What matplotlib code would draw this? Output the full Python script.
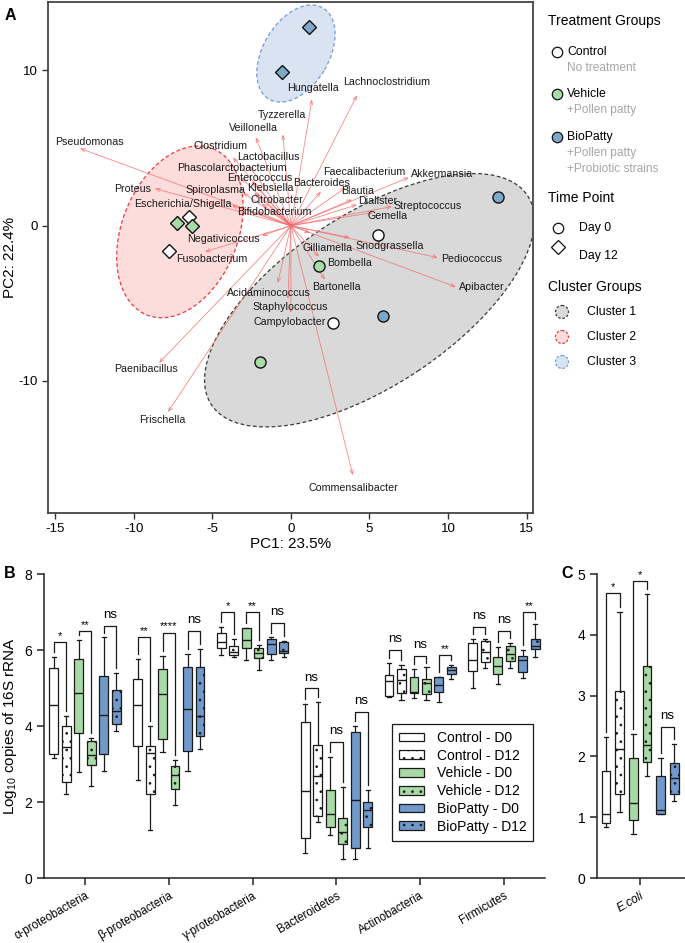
import matplotlib
matplotlib.use("Agg")
import matplotlib.pyplot as plt
from matplotlib.patches import Ellipse, Circle, Patch
import numpy as np

plt.rcParams['font.family'] = ['Liberation Sans', 'DejaVu Sans']
plt.rcParams['mathtext.fontset'] = 'custom'
plt.rcParams['mathtext.rm'] = 'Liberation Sans'
plt.rcParams['mathtext.it'] = 'Liberation Sans:italic'
plt.rcParams['axes.unicode_minus'] = False
plt.rcParams['hatch.linewidth'] = 0.7

W, H = 685, 943

# ---------------- panel A: PCA biplot ----------------
sample_pc1 = [5.57, 2.69, -6.47, -7.73, -1.97, 1.76, -7.27, -6.31, 13.2, 5.83, -0.57, 1.12]
sample_pc2 = [-0.62, -6.26, 0.54, -1.61, -8.8, -2.58, 0.15, -0.02, 1.87, -5.83, 9.9, 12.8]
sample_group = ['Control'] * 4 + ['Vehicle'] * 4 + ['BioPatty'] * 4
sample_day = [0, 0, 12, 12, 0, 0, 12, 12, 0, 0, 12, 12]

taxa = ['Pseudomonas', 'Proteus', 'Escherichia/Shigella', 'Spiroplasma',
        'Phascolarctobacterium', 'Clostridium', 'Lactobacillus', 'Enterococcus',
        'Klebsiella', 'Citrobacter', 'Bifidobacterium', 'Veillonella', 'Tyzzerella',
        'Hungatella', 'Lachnoclostridium', 'Bacteroides', 'Faecalibacterium', 'Blautia',
        'Akkermansia', 'Dialister', 'Streptococcus', 'Gemella', 'Snodgrassella',
        'Pediococcus', 'Apibacter', 'Gilliamella', 'Bombella', 'Bartonella',
        'Acidaminococcus', 'Staphylococcus', 'Campylobacter', 'Commensalibacter',
        'Negativicoccus', 'Fusobacterium', 'Paenibacillus', 'Frischella']
load_pc1 = [-13.41, -8.65, -3.75, -3.05, -3.18, -3.69, -2.67, -2.48, -2.35, -1.84,
            -2.10, -2.23, -0.51, 1.34, 4.20, 1.91, 3.50, 3.88, 7.50, 4.20, 6.42,
            5.21, 3.75, 9.35, 10.49, 1.21, 1.78, 2.16, -0.83, -0.19, 0.0, 3.94,
            -1.84, -5.47, -8.39, -7.82]
load_pc2 = [4.97, 2.39, 1.29, 2.13, 3.10, 4.39, 3.87, 2.84, 2.13, 1.42, 0.90, 5.68,
            5.87, 8.13, 8.39, 2.19, 2.45, 1.68, 3.10, 1.35, 1.23, 0.84, -0.77, -2.06,
            -3.94, -0.45, -2.0, -3.48, -3.68, -4.71, -5.61, -16.06, -0.65, -1.68,
            -8.84, -12.0]
# label offsets from arrow tip, in points
label_dx = [6.5, -16, -35, -20, -6.5, -8.6, 13.7, 5.8, 11.5, 10.8, 12, -1.4, -0.7,
            0.7, 21.6, 0.7, 13, 4.3, 23.8, 15, 26, 10.8, 28.8, 24.5, 18.7, 13, 22.3,
            8.6, -6.5, 1.4, -1.0, 0.7, -27.4, 5, -9.4, -4.3]
label_dy = [5, 0, 1.4, 2, 7, 8, 6.5, 2.9, 3.6, 2.9, 0, 6.5, 13.7, 8, 9.4, 6.5, 11.5,
            6.5, 2.2, 2.9, 0.7, -2.2, -5.8, -0.7, 0, -10.8, -4.3, -5, -7.2, -5.8,
            -6.5, -9.4, -2.2, -5, -4.3, -5.8]

cluster_names = ['Cluster 1', 'Cluster 2', 'Cluster 3']
cluster_cx = [5.0, -7.06, 0.32]
cluster_cy = [-4.8, -0.4, 11.08]
cluster_w = [24.2, 11.5, 6.8]
cluster_h = [11.0, 7.4, 4.2]
cluster_angle = [34, 69, 60]
cluster_fill = ['#d9d9d9', '#fddcdc', '#dae3f1']
cluster_edge = ['#3a3a3a', '#f03a3a', '#6f9be0']

group_color_A = {'Control': 'white', 'Vehicle': '#a9dba6', 'BioPatty': '#7ea8c8'}

# ---------------- panel B / C: box plots ----------------
box_labels = ['Control - D0', 'Control - D12', 'Vehicle - D0', 'Vehicle - D12',
              'BioPatty - D0', 'BioPatty - D12']
box_colors = ['white', 'white', '#a8d9a6', '#a8d9a6', '#7199cb', '#7199cb']
box_hatch = [None, '..', None, '..', None, '..']

phyla = ['α-proteobacteria', 'β-proteobacteria', 'γ-proteobacteria',
         'Bacteroidetes', 'Actinobacteria', 'Firmicutes']
# each box: (whisker low, q1, median, q3, whisker high)
alpha_proteo = [(3.15, 3.26, 4.55, 5.52, 5.82), (2.20, 2.52, 3.44, 4.00, 4.26),
                (2.78, 3.81, 4.88, 5.77, 6.26), (2.43, 2.97, 3.24, 3.61, 3.68),
                (2.82, 3.26, 4.28, 5.32, 6.33), (3.88, 4.05, 4.40, 4.96, 5.39)]
beta_proteo = [(2.58, 3.47, 4.55, 5.25, 5.76), (1.26, 2.20, 3.30, 3.47, 4.00),
               (3.31, 3.66, 4.83, 5.50, 5.85), (1.92, 2.33, 2.71, 2.96, 3.11),
               (2.82, 3.35, 4.45, 5.54, 5.89), (3.39, 3.74, 4.26, 5.56, 6.02)]
gamma_proteo = [(5.87, 6.04, 6.22, 6.44, 6.60), (5.82, 5.87, 5.96, 6.11, 6.29),
                (5.75, 6.04, 6.26, 6.57, 6.57), (5.47, 5.80, 5.91, 6.04, 6.13),
                (5.75, 5.89, 6.16, 6.29, 6.33), (5.81, 5.91, 5.98, 6.22, 6.24)]
bacteroidetes = [(0.65, 1.04, 2.30, 4.11, 4.57), (1.48, 1.64, 2.68, 3.50, 4.64),
                 (1.13, 1.35, 1.68, 2.32, 3.18), (0.50, 0.89, 1.20, 1.57, 2.40),
                 (0.50, 0.80, 2.05, 3.83, 4.01), (0.78, 1.35, 1.80, 1.99, 2.32)]
actinobacteria = [(4.77, 4.80, 5.18, 5.34, 5.65), (4.68, 4.86, 5.21, 5.49, 5.61),
                  (4.75, 4.86, 4.90, 5.28, 5.49), (4.68, 4.84, 5.12, 5.23, 5.54),
                  (4.64, 4.89, 5.08, 5.28, 5.30), (5.24, 5.36, 5.47, 5.54, 5.61)]
firmicutes = [(4.99, 5.46, 5.74, 6.18, 6.28), (5.52, 5.68, 5.96, 6.25, 6.29),
              (5.11, 5.37, 5.59, 5.81, 6.09), (5.52, 5.71, 5.89, 6.11, 6.19),
              (5.27, 5.41, 5.75, 5.85, 6.00), (5.82, 6.03, 6.11, 6.29, 6.68)]
phyla_boxes = [alpha_proteo, beta_proteo, gamma_proteo, bacteroidetes,
               actinobacteria, firmicutes]
phyla_sig = [['*', '**', 'ns'], ['**', '****', 'ns'], ['*', '**', 'ns'],
             ['ns', 'ns', 'ns'], ['ns', 'ns', '**'], ['ns', 'ns', '**']]
phyla_sig_y = [[6.22, 6.50, 6.64], [6.33, 6.46, 6.50], [6.99, 6.99, 6.72],
               [4.99, 3.59, 4.38], [6.00, 5.85, 5.87], [6.61, 6.51, 7.01]]

ecoli = [(0.84, 0.90, 1.05, 1.76, 2.32), (1.09, 1.38, 2.12, 3.08, 4.38),
         (0.72, 0.96, 1.24, 1.97, 2.37), (1.68, 1.90, 2.19, 3.49, 4.67),
         (1.05, 1.06, 1.12, 1.67, 1.97), (1.27, 1.38, 1.64, 1.89, 2.20)]
ecoli_sig = ['*', '*', 'ns']
ecoli_sig_y = [4.68, 4.88, 2.49]

fig = plt.figure(figsize=(W / 100, H / 100), dpi=100)

# ================= Panel A =================
axA = fig.add_axes([48 / W, 1 - 513 / H, 485 / W, 511 / H])
for cx, cy, w, h, a, fc, ec in zip(cluster_cx, cluster_cy, cluster_w, cluster_h,
                                   cluster_angle, cluster_fill, cluster_edge):
    axA.add_patch(Ellipse((cx, cy), w, h, angle=a, facecolor=fc, edgecolor=ec,
                          ls=(0, (3, 2)), lw=0.9, zorder=1))

for name, x, y, dx, dy in zip(taxa, load_pc1, load_pc2, label_dx, label_dy):
    axA.annotate('', xy=(x, y), xytext=(0, 0),
                 arrowprops=dict(arrowstyle='->,head_length=0.3,head_width=0.12',
                                 color='#f26b6b', lw=0.6, shrinkA=0, shrinkB=0,
                                 alpha=0.8),
                 zorder=2)
    axA.annotate(name, xy=(x, y), xytext=(dx, dy), textcoords='offset points',
                 ha='center', va='center', fontsize=7.7, color='#1a1a1a', zorder=3)

for x, y, g, d in zip(sample_pc1, sample_pc2, sample_group, sample_day):
    axA.plot(x, y, marker='o' if d == 0 else 'D', ms=8 if d == 0 else 7.5,
             mfc=group_color_A[g], mec='#111111', mew=1.0, zorder=5)

axA.set_xlim(-15.45, 15.4)
axA.set_ylim(-18.5, 14.4)
axA.set_xticks([-15, -10, -5, 0, 5, 10, 15])
axA.set_yticks([-10, 0, 10])
axA.tick_params(labelsize=9.5, length=4, width=1, color='#333333')
for s in axA.spines.values():
    s.set_color('#444444')
    s.set_linewidth(1.3)
axA.set_xlabel('PC1: 23.5%', fontsize=11, labelpad=1)
axA.set_ylabel('PC2: 22.4%', fontsize=11, labelpad=1)

# ---- legend for panel A (drawn in pixel space) ----
lg = fig.add_axes([0, 0, 1, 1], zorder=-1)
lg.set_xlim(0, W)
lg.set_ylim(H, 0)
lg.axis('off')
grey = '#a6a6a6'
lg.text(548, 21, 'Treatment Groups', fontsize=10, va='center')
treat_rows = [('Control', ['No treatment'], 52),
              ('Vehicle', ['+Pollen patty'], 94),
              ('BioPatty', ['+Pollen patty', '+Probiotic strains'], 137)]
for g, subs, yy in treat_rows:
    lg.plot(557, yy, 'o', ms=7.5, mfc=group_color_A[g], mec='#111111', mew=0.9)
    lg.text(567, yy, g, fontsize=8.8, va='center')
    for k, s in enumerate(subs):
        lg.text(567, yy + 16 + 16 * k, s, fontsize=8.6, va='center', color=grey)
lg.text(548, 198, 'Time Point', fontsize=10, va='center')
lg.plot(558, 228, 'o', ms=7.5, mfc='white', mec='#111111', mew=0.9)
lg.text(579, 228, 'Day 0', fontsize=8.8, va='center')
lg.plot(558, 247, 'D', ms=7, mfc='white', mec='#111111', mew=0.9)
lg.text(579, 256, 'Day 12', fontsize=8.8, va='center')
lg.text(548, 287, 'Cluster Groups', fontsize=10, va='center')
for k, (nm, fc, ec) in enumerate(zip(cluster_names, cluster_fill, cluster_edge)):
    yy = 312 + 25 * k
    lg.add_patch(Circle((562, yy), 6.5, facecolor=fc, edgecolor=ec, ls=(0, (2, 1.5)),
                        lw=0.9))
    lg.text(587, yy, nm, fontsize=8.8, va='center')
lg.text(5, 16, 'A', fontsize=11.5, fontweight='bold', va='center')
lg.text(4, 574, 'B', fontsize=11.5, fontweight='bold', va='center')
lg.text(561, 574, 'C', fontsize=11.5, fontweight='bold', va='center')


def draw_boxes(ax, boxes, center, offsets, width, capw):
    stats = [dict(whislo=b[0], q1=b[1], med=b[2], q3=b[3], whishi=b[4]) for b in boxes]
    art = ax.bxp(stats, positions=center + offsets, widths=width, patch_artist=True,
                 showfliers=False, capwidths=capw,
                 boxprops=dict(lw=0.9, edgecolor='#1a1a1a'),
                 medianprops=dict(color='#1a1a1a', lw=1.0),
                 whiskerprops=dict(color='#1a1a1a', lw=0.9),
                 capprops=dict(color='#1a1a1a', lw=0.9), manage_ticks=False)
    for patch, fc, h in zip(art['boxes'], box_colors, box_hatch):
        patch.set_facecolor(fc)
        if h:
            patch.set_hatch(h)


def draw_brackets(ax, boxes, center, offsets, sigs, ys, gap, star_off, ns_off):
    for t in range(3):
        x0 = center + offsets[2 * t]
        x1 = center + offsets[2 * t + 1]
        y = ys[t]
        yl = boxes[2 * t][4] + gap
        yr = boxes[2 * t + 1][4] + gap
        ax.plot([x0, x0, x1, x1], [yl, y, y, yr], color='#1a1a1a', lw=0.9)
        s = sigs[t]
        if s == 'ns':
            ax.text((x0 + x1) / 2, y + ns_off, s, ha='center', va='baseline', fontsize=9.5)
        else:
            ax.text((x0 + x1) / 2, y + star_off, s, ha='center', va='baseline',
                    fontsize=8)


def style_box_axes(ax):
    for side in ['top', 'right']:
        ax.spines[side].set_visible(False)
    for side in ['left', 'bottom']:
        ax.spines[side].set_linewidth(1.1)
        ax.spines[side].set_color('#222222')
    ax.tick_params(length=5, width=1.1, color='#222222', labelsize=10)


# ================= Panel B =================
axB = fig.add_axes([44 / W, 1 - 878 / H, 501 / W, 304 / H])
offB = (np.arange(6) - 2.5) * 0.149
for gi, boxes in enumerate(phyla_boxes):
    draw_boxes(axB, boxes, gi, offB, 0.105, 0.05)
    draw_brackets(axB, boxes, gi, offB, phyla_sig[gi], phyla_sig_y[gi], 0.13, 0.08, 0.2)
axB.set_xlim(-0.49, 5.49)
axB.set_ylim(0, 8)
axB.set_yticks([0, 2, 4, 6, 8])
axB.set_xticks(range(6))
axB.set_xticklabels(phyla, rotation=30, ha='right', rotation_mode='anchor')
style_box_axes(axB)
axB.tick_params(axis='x', labelsize=8.3)
axB.set_ylabel('Log$_{10}$ copies of 16S rRNA', fontsize=11, labelpad=4)
handles = [Patch(facecolor=c, edgecolor='#1a1a1a', hatch=h, lw=0.9)
           for c, h in zip(box_colors, box_hatch)]
axB.legend(handles, box_labels, loc='upper left', bbox_to_anchor=(0.695, 0.507),
           borderaxespad=0, fancybox=False, edgecolor='#1a1a1a', framealpha=1,
           fontsize=10, handlelength=1.8, handleheight=0.6, labelspacing=0.27,
           borderpad=0.5, handletextpad=0.9).get_frame().set_linewidth(0.9)

# ================= Panel C =================
axC = fig.add_axes([597 / W, 1 - 878 / H, 88 / W, 304 / H])
offC = (np.arange(6) - 2.5) * 0.155
draw_boxes(axC, ecoli, 0, offC, 0.1, 0.05)
draw_brackets(axC, ecoli, 0, offC, ecoli_sig, ecoli_sig_y, 0.08, 0.05, 0.13)
axC.set_xlim(-0.49, 0.51)
axC.set_ylim(0, 5)
axC.set_yticks([0, 1, 2, 3, 4, 5])
axC.set_xticks([0])
axC.set_xticklabels(['E.coli'], rotation=30, ha='right', rotation_mode='anchor',
                    fontstyle='italic')
style_box_axes(axC)
axC.tick_params(axis='x', labelsize=8.5)

fig.savefig('out.png', dpi=100, facecolor='white')
